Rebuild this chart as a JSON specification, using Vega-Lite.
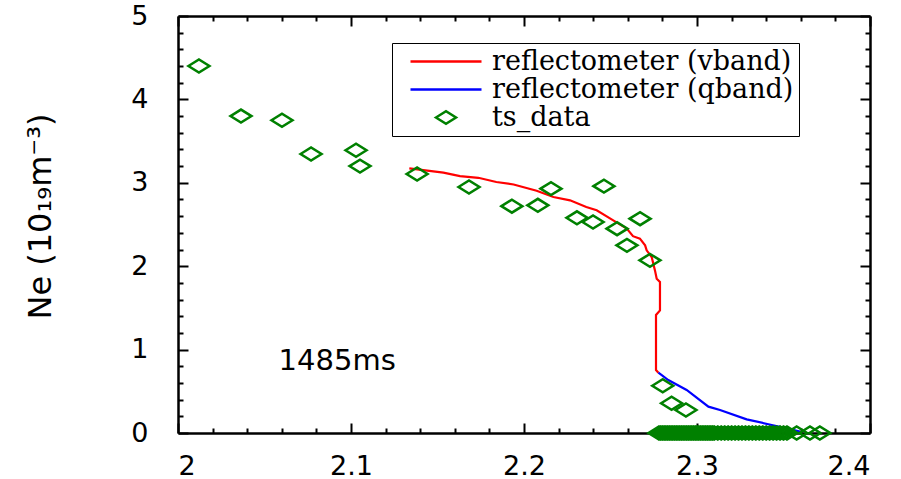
{
  "$schema": "https://vega.github.io/schema/vega-lite/v6.json",
  "width": 692,
  "height": 417,
  "autosize": {"type": "none"},
  "padding": {"left": 178, "top": 16, "right": 31, "bottom": 46},
  "background": "white",
  "config": {
    "view": {"stroke": null},
    "axis": {
      "domainColor": "black", "domainWidth": 2.5, "tickColor": "black", "tickWidth": 2,
      "grid": false, "labelFont": "DejaVu Sans", "labelFontSize": 27, "labelColor": "black",
      "titleFont": "DejaVu Sans", "titleFontSize": 32, "titleFontWeight": "normal", "titleColor": "black"
    }
  },
  "resolve": {"axis": {"x": "independent", "y": "independent"}, "legend": {"color": "independent"}},
  "layer": [
    {
      "data": {"values": [
        {"x": 2.1337, "ne": 3.174, "series": "reflectometer (vband)"},
        {"x": 2.1534, "ne": 3.121, "series": "reflectometer (vband)"},
        {"x": 2.163, "ne": 3.08, "series": "reflectometer (vband)"},
        {"x": 2.1736, "ne": 3.06, "series": "reflectometer (vband)"},
        {"x": 2.184, "ne": 3.01, "series": "reflectometer (vband)"},
        {"x": 2.194, "ne": 2.98, "series": "reflectometer (vband)"},
        {"x": 2.2073, "ne": 2.905, "series": "reflectometer (vband)"},
        {"x": 2.217, "ne": 2.83, "series": "reflectometer (vband)"},
        {"x": 2.2266, "ne": 2.79, "series": "reflectometer (vband)"},
        {"x": 2.236, "ne": 2.71, "series": "reflectometer (vband)"},
        {"x": 2.242, "ne": 2.67, "series": "reflectometer (vband)"},
        {"x": 2.2516, "ne": 2.55, "series": "reflectometer (vband)"},
        {"x": 2.2594, "ne": 2.45, "series": "reflectometer (vband)"},
        {"x": 2.263, "ne": 2.36, "series": "reflectometer (vband)"},
        {"x": 2.267, "ne": 2.33, "series": "reflectometer (vband)"},
        {"x": 2.27, "ne": 2.25, "series": "reflectometer (vband)"},
        {"x": 2.2709, "ne": 2.19, "series": "reflectometer (vband)"},
        {"x": 2.2738, "ne": 2.11, "series": "reflectometer (vband)"},
        {"x": 2.2757, "ne": 1.95, "series": "reflectometer (vband)"},
        {"x": 2.2767, "ne": 1.85, "series": "reflectometer (vband)"},
        {"x": 2.2786, "ne": 1.81, "series": "reflectometer (vband)"},
        {"x": 2.2786, "ne": 1.47, "series": "reflectometer (vband)"},
        {"x": 2.2763, "ne": 1.415, "series": "reflectometer (vband)"},
        {"x": 2.2763, "ne": 0.755, "series": "reflectometer (vband)"},
        {"x": 2.2777, "ne": 0.723, "series": "reflectometer (vband)"}
      ]},
      "mark": {"type": "line", "strokeWidth": 2.2},
      "encoding": {
        "x": {"field": "x", "type": "quantitative", "scale": {"domain": [2, 2.4], "nice": false, "zero": false},
              "axis": {"orient": "bottom", "values": [2, 2.1, 2.2, 2.3, 2.4], "format": "~g", "tickSize": -10, "labelPadding": 30, "title": null}},
        "y": {"field": "ne", "type": "quantitative", "scale": {"domain": [0, 5], "nice": false, "zero": false},
              "axis": {"orient": "left", "values": [0, 1, 2, 3, 4, 5], "format": "d", "tickSize": -10, "labelPadding": 40,
                       "title": "Ne (10₁₉m⁻³)", "titleX": -128, "titleY": 200, "titleBaseline": "alphabetic"}},
        "order": {"field": "ne", "sort": "descending"},
        "color": {"field": "series", "type": "nominal", "legend": null,
                  "scale": {"domain": ["reflectometer (vband)", "reflectometer (qband)", "ts_data"], "range": ["#ff0000", "#0000ff", "#008000"]}}
      }
    },
    {
      "data": {"values": [
        {"x": 2.2777, "ne": 0.723, "series": "reflectometer (qband)"},
        {"x": 2.2834, "ne": 0.635, "series": "reflectometer (qband)"},
        {"x": 2.294, "ne": 0.516, "series": "reflectometer (qband)"},
        {"x": 2.3066, "ne": 0.316, "series": "reflectometer (qband)"},
        {"x": 2.3133, "ne": 0.276, "series": "reflectometer (qband)"},
        {"x": 2.3287, "ne": 0.164, "series": "reflectometer (qband)"},
        {"x": 2.3432, "ne": 0.096, "series": "reflectometer (qband)"},
        {"x": 2.3518, "ne": 0.056, "series": "reflectometer (qband)"},
        {"x": 2.3595, "ne": 0.016, "series": "reflectometer (qband)"}
      ]},
      "mark": {"type": "line", "strokeWidth": 2.2},
      "encoding": {
        "x": {"field": "x", "type": "quantitative",
              "axis": {"orient": "bottom", "values": [2.02, 2.04, 2.06, 2.08, 2.12, 2.14, 2.16, 2.18, 2.22, 2.24, 2.26, 2.28, 2.32, 2.34, 2.36, 2.38], "labels": false, "domain": false, "tickSize": -5, "title": null}},
        "y": {"field": "ne", "type": "quantitative",
              "axis": {"orient": "left", "values": [0.2, 0.4, 0.6, 0.8, 1.2, 1.4, 1.6, 1.8, 2.2, 2.4, 2.6, 2.8, 3.2, 3.4, 3.6, 3.8, 4.2, 4.4, 4.6, 4.8], "labels": false, "domain": false, "tickSize": -5, "title": null}},
        "order": {"field": "ne", "sort": "descending"},
        "color": {"field": "series", "type": "nominal", "legend": null}
      }
    },
    {
      "data": {"values": [
        {"x": 2.0121, "ne": 4.40, "series": "ts_data"},
        {"x": 2.0364, "ne": 3.80, "series": "ts_data"},
        {"x": 2.0601, "ne": 3.75, "series": "ts_data"},
        {"x": 2.0769, "ne": 3.345, "series": "ts_data"},
        {"x": 2.1029, "ne": 3.39, "series": "ts_data"},
        {"x": 2.1052, "ne": 3.20, "series": "ts_data"},
        {"x": 2.1382, "ne": 3.105, "series": "ts_data"},
        {"x": 2.1682, "ne": 2.95, "series": "ts_data"},
        {"x": 2.193, "ne": 2.72, "series": "ts_data"},
        {"x": 2.208, "ne": 2.73, "series": "ts_data"},
        {"x": 2.2156, "ne": 2.93, "series": "ts_data"},
        {"x": 2.2306, "ne": 2.58, "series": "ts_data"},
        {"x": 2.2399, "ne": 2.53, "series": "ts_data"},
        {"x": 2.2462, "ne": 2.96, "series": "ts_data"},
        {"x": 2.2538, "ne": 2.45, "series": "ts_data"},
        {"x": 2.2595, "ne": 2.25, "series": "ts_data"},
        {"x": 2.2671, "ne": 2.57, "series": "ts_data"},
        {"x": 2.2728, "ne": 2.07, "series": "ts_data"},
        {"x": 2.2802, "ne": 0.567, "series": "ts_data"},
        {"x": 2.2853, "ne": 0.356, "series": "ts_data"},
        {"x": 2.2936, "ne": 0.276, "series": "ts_data"},
        {"x": 2.278, "ne": 0, "series": "ts_data"},
        {"x": 2.279, "ne": 0, "series": "ts_data"},
        {"x": 2.280, "ne": 0, "series": "ts_data"},
        {"x": 2.281, "ne": 0, "series": "ts_data"},
        {"x": 2.282, "ne": 0, "series": "ts_data"},
        {"x": 2.283, "ne": 0, "series": "ts_data"},
        {"x": 2.284, "ne": 0, "series": "ts_data"},
        {"x": 2.285, "ne": 0, "series": "ts_data"},
        {"x": 2.286, "ne": 0, "series": "ts_data"},
        {"x": 2.287, "ne": 0, "series": "ts_data"},
        {"x": 2.288, "ne": 0, "series": "ts_data"},
        {"x": 2.289, "ne": 0, "series": "ts_data"},
        {"x": 2.290, "ne": 0, "series": "ts_data"},
        {"x": 2.291, "ne": 0, "series": "ts_data"},
        {"x": 2.292, "ne": 0, "series": "ts_data"},
        {"x": 2.293, "ne": 0, "series": "ts_data"},
        {"x": 2.294, "ne": 0, "series": "ts_data"},
        {"x": 2.295, "ne": 0, "series": "ts_data"},
        {"x": 2.296, "ne": 0, "series": "ts_data"},
        {"x": 2.297, "ne": 0, "series": "ts_data"},
        {"x": 2.298, "ne": 0, "series": "ts_data"},
        {"x": 2.299, "ne": 0, "series": "ts_data"},
        {"x": 2.300, "ne": 0, "series": "ts_data"},
        {"x": 2.301, "ne": 0, "series": "ts_data"},
        {"x": 2.302, "ne": 0, "series": "ts_data"},
        {"x": 2.303, "ne": 0, "series": "ts_data"},
        {"x": 2.304, "ne": 0, "series": "ts_data"},
        {"x": 2.305, "ne": 0, "series": "ts_data"},
        {"x": 2.306, "ne": 0, "series": "ts_data"},
        {"x": 2.307, "ne": 0, "series": "ts_data"},
        {"x": 2.308, "ne": 0, "series": "ts_data"},
        {"x": 2.309, "ne": 0, "series": "ts_data"},
        {"x": 2.310, "ne": 0, "series": "ts_data"},
        {"x": 2.312, "ne": 0, "series": "ts_data"},
        {"x": 2.314, "ne": 0, "series": "ts_data"},
        {"x": 2.316, "ne": 0, "series": "ts_data"},
        {"x": 2.318, "ne": 0, "series": "ts_data"},
        {"x": 2.320, "ne": 0, "series": "ts_data"},
        {"x": 2.322, "ne": 0, "series": "ts_data"},
        {"x": 2.324, "ne": 0, "series": "ts_data"},
        {"x": 2.326, "ne": 0, "series": "ts_data"},
        {"x": 2.328, "ne": 0, "series": "ts_data"},
        {"x": 2.330, "ne": 0, "series": "ts_data"},
        {"x": 2.332, "ne": 0, "series": "ts_data"},
        {"x": 2.334, "ne": 0, "series": "ts_data"},
        {"x": 2.336, "ne": 0, "series": "ts_data"},
        {"x": 2.338, "ne": 0, "series": "ts_data"},
        {"x": 2.340, "ne": 0, "series": "ts_data"},
        {"x": 2.342, "ne": 0, "series": "ts_data"},
        {"x": 2.344, "ne": 0, "series": "ts_data"},
        {"x": 2.346, "ne": 0, "series": "ts_data"},
        {"x": 2.348, "ne": 0, "series": "ts_data"},
        {"x": 2.350, "ne": 0, "series": "ts_data"},
        {"x": 2.352, "ne": 0, "series": "ts_data"},
        {"x": 2.3576, "ne": 0, "series": "ts_data"},
        {"x": 2.3653, "ne": 0, "series": "ts_data"},
        {"x": 2.371, "ne": 0, "series": "ts_data"}
      ]},
      "mark": {"type": "point", "shape": "M-1,0L0,-0.62L1,0L0,0.62Z", "size": 440, "filled": false, "strokeWidth": 2.5, "opacity": 1},
      "encoding": {
        "x": {"field": "x", "type": "quantitative",
              "axis": {"orient": "top", "values": [2, 2.1, 2.2, 2.3, 2.4], "labels": false, "tickSize": -10, "title": null}},
        "y": {"field": "ne", "type": "quantitative",
              "axis": {"orient": "right", "values": [0, 1, 2, 3, 4, 5], "labels": false, "tickSize": -10, "title": null}},
        "color": {"field": "series", "type": "nominal",
                  "legend": {
                    "orient": "none", "legendX": 214, "legendY": 27, "title": null,
                    "padding": 5, "strokeColor": "black",
                    "labelFont": "DejaVu Serif", "labelFontSize": 27, "labelOffset": 9, "symbolOffset": 12,
                    "rowPadding": 0, "clipHeight": 27, "symbolStrokeWidth": 2.5, "labelLimit": 500,
                    "symbolType": {"expr": "datum.value === 'ts_data' ? 'M-1,0L0,-0.62L1,0L0,0.62Z' : 'stroke'"},
                    "symbolSize": {"expr": "datum.value === 'ts_data' ? 400 : 5041"},
                    "encode": {
                      "symbols": {
                        "fill": {"value": "transparent"}
                      },
                      "labels": {
                        "fill": {"condition": [{"test": "datum.value === 'ts_data'", "value": "#008000"}, {"test": "datum.value === 'reflectometer (qband)'", "value": "#0000ff"}], "value": "#ff0000"}
                      },
                      "legend": {
                        "strokeWidth": {"value": 2.5}
                      }
                    }
                  }}
      }
    },
    {
      "data": {"values": [{"x": 2.092, "ne": 0.863, "label": "1485ms"}]},
      "mark": {"type": "text", "font": "DejaVu Sans", "fontSize": 29, "color": "black", "align": "center", "baseline": "middle"},
      "encoding": {
        "x": {"field": "x", "type": "quantitative",
              "axis": {"orient": "top", "values": [2.02, 2.04, 2.06, 2.08, 2.12, 2.14, 2.16, 2.18, 2.22, 2.24, 2.26, 2.28, 2.32, 2.34, 2.36, 2.38], "labels": false, "domain": false, "tickSize": -5, "title": null}},
        "y": {"field": "ne", "type": "quantitative",
              "axis": {"orient": "right", "values": [0.2, 0.4, 0.6, 0.8, 1.2, 1.4, 1.6, 1.8, 2.2, 2.4, 2.6, 2.8, 3.2, 3.4, 3.6, 3.8, 4.2, 4.4, 4.6, 4.8], "labels": false, "domain": false, "tickSize": -5, "title": null}},
        "text": {"field": "label"}
      }
    }
  ]
}
